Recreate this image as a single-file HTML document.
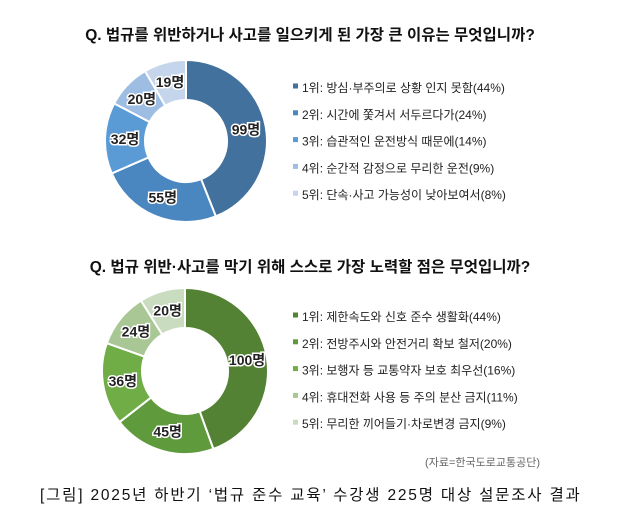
<!DOCTYPE html>
<html><head><meta charset="utf-8"><style>
body{margin:0;background:#fff;}
svg text{font-family:"Liberation Sans","Noto Sans CJK KR",sans-serif;}
.lbl{font-size:14px;font-weight:bold;fill:#222;stroke:#fff;stroke-width:3px;paint-order:stroke;}
.leg{font-size:12px;fill:#222;}
</style></head><body>
<svg id="c" width="621" height="524" viewBox="0 0 621 524" xmlns="http://www.w3.org/2000/svg">
<text x="310" y="40" text-anchor="middle" font-size="15.5" font-weight="bold" fill="#111">Q. 법규를 위반하거나 사고를 일으키게 된 가장 큰 이유는 무엇입니까?</text>
<text x="310" y="272" text-anchor="middle" font-size="15.5" font-weight="bold" fill="#111">Q. 법규 위반·사고를 막기 위해 스스로 가장 노력할 점은 무엇입니까?</text>
<text x="540" y="466" text-anchor="end" font-size="11" fill="#666">(자료=한국도로교통공단)</text>
<text x="40" y="500" font-size="15.5" letter-spacing="1.8" fill="#111">[그림] 2025년 하반기 ‘법규 준수 교육’ 수강생 225명 대상 설문조사 결과</text>
</svg>
<script>
const counts1=[99,55,32,20,19];
const legend1=["1위: 방심·부주의로 상황 인지 못함(44%)","2위: 시간에 쫓겨서 서두르다가(24%)","3위: 습관적인 운전방식 때문에(14%)","4위: 순간적 감정으로 무리한 운전(9%)","5위: 단속·사고 가능성이 낮아보여서(8%)"];
const colors1=["#41719c","#4a86c0","#5b9bd5","#9dbde3","#c5d6ec"];
const counts2=[100,45,36,24,20];
const legend2=["1위: 제한속도와 신호 준수 생활화(44%)","2위: 전방주시와 안전거리 확보 철저(20%)","3위: 보행자 등 교통약자 보호 최우선(16%)","4위: 휴대전화 사용 등 주의 분산 금지(11%)","5위: 무리한 끼어들기·차로변경 금지(9%)"];
const colors2=["#548235","#5f9a3d","#70ad47","#a9c795","#cadcbf"];
const svg=document.getElementById('c');
const NS="http://www.w3.org/2000/svg";
function donut(id,counts,colors,legend,cx,cy,R,r,ly){
  const total=counts.reduce((a,b)=>a+b,0);
  let a0=-Math.PI/2;
  counts.forEach((v,i)=>{
    const a1=a0+v/total*2*Math.PI;
    const p=(a,rr)=>[cx+rr*Math.cos(a),cy+rr*Math.sin(a)];
    const large=(a1-a0)>Math.PI?1:0;
    const [x0,y0]=p(a0,R),[x1,y1]=p(a1,R),[x2,y2]=p(a1,r),[x3,y3]=p(a0,r);
    const path=document.createElementNS(NS,'path');
    path.setAttribute('d',`M${x0},${y0}A${R},${R} 0 ${large} 1 ${x1},${y1}L${x2},${y2}A${r},${r} 0 ${large} 0 ${x3},${y3}Z`);
    path.setAttribute('fill',colors[i]);path.setAttribute('stroke','#fff');path.setAttribute('stroke-width','2');
    
    
    svg.appendChild(path);
    const am=(a0+a1)/2,[tx,ty]=p(am,(R+r)/2);
    const t=document.createElementNS(NS,'text');
    t.setAttribute('x',tx);t.setAttribute('y',ty+5);t.setAttribute('text-anchor','middle');t.setAttribute('class','lbl');
    t.textContent=v+'명';
    
    
    svg.appendChild(t);
    a0=a1;
  });
  legend.forEach((s,i)=>{
    const y=ly+i*26.8;
    const m=document.createElementNS(NS,'rect');
    m.setAttribute('x',293);m.setAttribute('y',y-4.5);m.setAttribute('width',5);m.setAttribute('height',5);m.setAttribute('fill',colors[i]);
    
    
    svg.appendChild(m);
    const t=document.createElementNS(NS,'text');
    t.setAttribute('x',302);t.setAttribute('y',y+4);t.setAttribute('class','leg');t.textContent=s;
    
    
    svg.appendChild(t);
  });
}
donut('chart1',counts1,colors1,legend1,186,141,81,41,88);
donut('chart2',counts2,colors2,legend2,185,371,83,43,317);
</script>
</body></html>
